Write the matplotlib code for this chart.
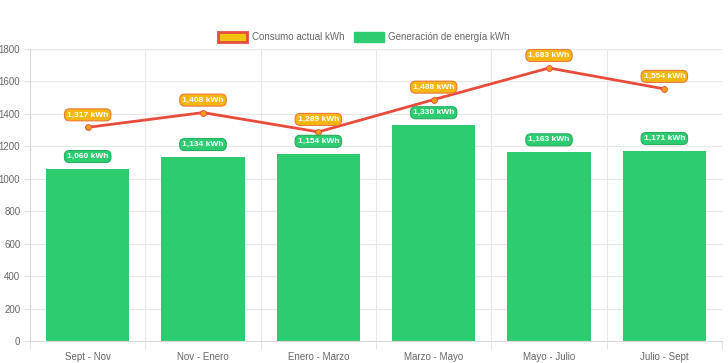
import numpy as np
import matplotlib
matplotlib.use("Agg")
import matplotlib.pyplot as plt
from matplotlib.patches import Patch

periodos = ["Sept - Nov", "Nov - Enero", "Enero - Marzo", "Marzo - Mayo", "Mayo - Julio", "Julio - Sept"]
consumo = [1317, 1408, 1289, 1488, 1683, 1554]
generacion = [1060, 1134, 1154, 1330, 1163, 1171]
y_ticks = [0, 200, 400, 600, 800, 1000, 1200, 1400, 1600, 1800]

VERDE = "#2ecc71"
ROJO = "#e74c3c"
AMARILLO = "#f1c40f"
NARANJA = "#f39c12"
GRIS = "#666666"

plt.rcParams["font.family"] = ["Liberation Sans", "DejaVu Sans"]

fig = plt.figure(figsize=(7.28, 3.63), dpi=100)
ax = fig.add_axes([30 / 728, 1 - 341 / 363, 692 / 728, 292 / 363])

x = np.arange(len(periodos))
ax.bar(x, generacion, width=0.72, color=VERDE, zorder=2)
ax.plot(x, consumo, color=ROJO, lw=2, zorder=3)
ax.scatter(x, consumo, s=18, color=NARANJA, edgecolor=ROJO, lw=0.6, zorder=4)

# etiquetas tipo "pastilla" sobre cada barra y cada punto
for xi, v in zip(x, generacion):
    ax.annotate(f"{v:,} kWh", (xi, v), xytext=(0, 9), textcoords="offset points",
                ha="center", va="center", fontsize=6, fontweight="bold", color="white",
                bbox=dict(boxstyle="round,pad=0.3,rounding_size=0.6", fc=VERDE, ec="#27ae60", lw=0.8),
                zorder=5)
for xi, v in zip(x, consumo):
    ax.annotate(f"{v:,} kWh", (xi, v), xytext=(0, 9), textcoords="offset points",
                ha="center", va="center", fontsize=6, fontweight="bold", color="white",
                bbox=dict(boxstyle="round,pad=0.3,rounding_size=0.6", fc="#f5b70f", ec="#ec7a3a", lw=0.8),
                zorder=5)

ax.set_xlim(-0.5, len(periodos) - 0.5)
ax.set_ylim(0, 1800)
ax.set_yticks(y_ticks)
ax.set_xticks(x)
ax.set_xticklabels(periodos)
ax.set_xticks(np.arange(-0.5, len(periodos)), minor=True)
ax.tick_params(axis="x", which="major", length=0, pad=8, labelsize=7, labelcolor=GRIS)
ax.tick_params(axis="x", which="minor", length=6, color="#e0e0e0")
ax.tick_params(axis="y", length=4, color="#e0e0e0", labelsize=7, labelcolor=GRIS, pad=3)
ax.grid(axis="y", color="#e8e8e8", lw=0.8, zorder=0)
ax.grid(axis="x", which="minor", color="#e8e8e8", lw=0.8, zorder=0)
ax.set_axisbelow(True)
for s in ["top", "right"]:
    ax.spines[s].set_visible(False)
for s in ["left", "bottom"]:
    ax.spines[s].set_color("#d9d9d9")

handles = [Patch(fc=AMARILLO, ec=ROJO, lw=2, label="Consumo actual kWh"),
           Patch(fc=VERDE, ec=VERDE, label="Generación de energía kWh")]
fig.legend(handles=handles, loc="center", bbox_to_anchor=(0.5, 1 - 37 / 363), ncol=2,
           frameon=False, fontsize=7, labelcolor=GRIS, handlelength=3.0, handleheight=1.2,
           handletextpad=0.5, columnspacing=1.0)

fig.savefig("out.png", dpi=100)
